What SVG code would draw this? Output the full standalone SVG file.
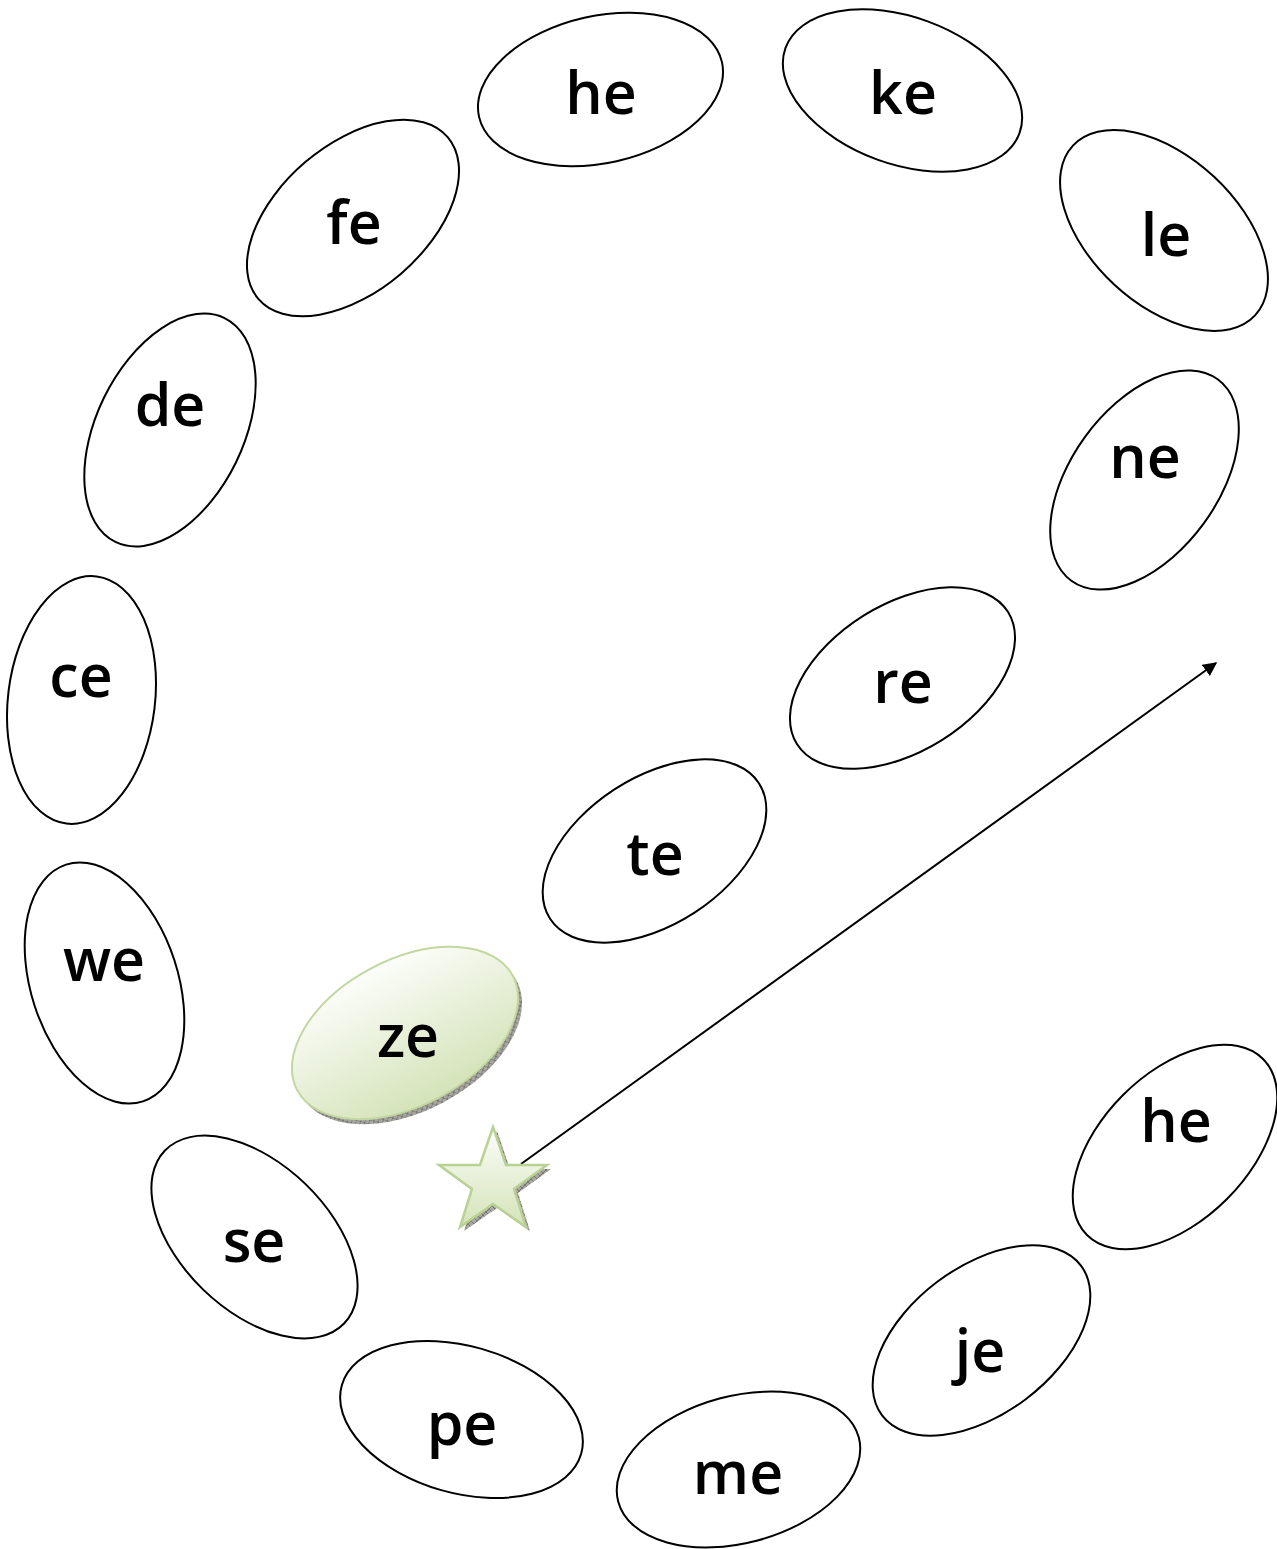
<svg xmlns="http://www.w3.org/2000/svg" width="1277" height="1549" viewBox="0 0 1277 1549">
<style>
.n{fill:#fff;stroke:#000;stroke-width:2}
.t{font-family:"Comic Sans MS","Open Sans",sans-serif;font-size:59px;font-weight:600;fill:#000;text-anchor:middle}
</style>
<defs>
<linearGradient id="g" x1="0" y1="0" x2="0" y2="1">
<stop offset="0" stop-color="#fcfdfa"/><stop offset="1" stop-color="#d4e3b8"/>
</linearGradient>
<pattern id="h" width="6" height="6" patternUnits="userSpaceOnUse">
<rect width="6" height="6" fill="#a8a8a0"/><path d="M0 0L6 6M6 0L0 6" stroke="#777" stroke-width="1"/>
</pattern>
<marker id="a" viewBox="0 0 10 10" refX="9" refY="5" markerWidth="7" markerHeight="7" orient="auto" markerUnits="strokeWidth">
<path d="M0 0L10 5L0 10z" fill="#000"/>
</marker>
</defs>
<g id="connectors">
<line x1="521" y1="1164" x2="1216" y2="663" stroke="#000" stroke-width="2" marker-end="url(#a)"/>
</g>
<g id="n-he1"><ellipse class="n" cx="600.5" cy="89.5" rx="124.5" ry="73.5" transform="rotate(-12.7 600.5 89.5)"/><text class="t" x="601" y="114">he</text></g>
<g id="n-ke"><ellipse class="n" cx="902.5" cy="90.5" rx="124.5" ry="73.5" transform="rotate(20 902.5 90.5)"/><text class="t" x="903" y="114">ke</text></g>
<g id="n-le"><ellipse class="n" cx="1164" cy="230.5" rx="124.5" ry="73.5" transform="rotate(43 1164 230.5)"/><text class="t" x="1166" y="256">le</text></g>
<g id="n-ne"><ellipse class="n" cx="1144.5" cy="480" rx="124.5" ry="73.5" transform="rotate(-54 1144.5 480)"/><text class="t" x="1145" y="478">ne</text></g>
<g id="n-re"><ellipse class="n" cx="902.5" cy="678" rx="124.5" ry="73.5" transform="rotate(-32 902.5 678)"/><text class="t" x="903" y="703">re</text></g>
<g id="n-te"><ellipse class="n" cx="654.5" cy="851" rx="124.5" ry="73.5" transform="rotate(-33 654.5 851)"/><text class="t" x="655" y="875">te</text></g>
<g id="n-ze">
<ellipse cx="409" cy="1038" rx="122" ry="73" transform="rotate(-28 409 1038)" fill="url(#h)"/>
<ellipse cx="405" cy="1033" rx="122" ry="73" transform="rotate(-28 405 1033)" fill="url(#g)" stroke="#c3d7a0" stroke-width="2"/>
<text class="t" x="408" y="1057">ze</text></g>
<g id="n-he2"><ellipse class="n" cx="1175" cy="1147" rx="124.5" ry="73.5" transform="rotate(-45 1175 1147)"/><text class="t" x="1176" y="1142">he</text></g>
<g id="n-je"><ellipse class="n" cx="981.5" cy="1340.5" rx="124.5" ry="73.5" transform="rotate(-37 981.5 1340.5)"/><text class="t" x="980" y="1372">je</text></g>
<g id="n-me"><ellipse class="n" cx="738.5" cy="1469.5" rx="124.5" ry="73.5" transform="rotate(-15 738.5 1469.5)"/><text class="t" x="738" y="1494">me</text></g>
<g id="n-pe"><ellipse class="n" cx="461.5" cy="1419.5" rx="124.5" ry="73.5" transform="rotate(16 461.5 1419.5)"/><text class="t" x="462" y="1445">pe</text></g>
<g id="n-se"><ellipse class="n" cx="254.5" cy="1237" rx="124.5" ry="73.5" transform="rotate(44 254.5 1237)"/><text class="t" x="254" y="1262">se</text></g>
<g id="n-we"><ellipse class="n" cx="104.5" cy="983" rx="124.5" ry="73.5" transform="rotate(72 104.5 983)"/><text class="t" x="104" y="981">we</text></g>
<g id="n-ce"><ellipse class="n" cx="81.5" cy="700" rx="124.5" ry="73.5" transform="rotate(-83 81.5 700)"/><text class="t" x="81" y="697">ce</text></g>
<g id="n-de"><ellipse class="n" cx="170" cy="430" rx="124.5" ry="73.5" transform="rotate(-64 170 430)"/><text class="t" x="170" y="426">de</text></g>
<g id="n-fe"><ellipse class="n" cx="353" cy="218" rx="124.5" ry="73.5" transform="rotate(-40.5 353 218)"/><text class="t" x="354" y="244">fe</text></g>
<g id="star">
<polygon points="497,1131 510,1169 551,1169 518,1193 530,1231 497,1208 464,1231 476,1193 443,1169 484,1169" fill="url(#h)"/>
<polygon points="493,1127 506,1165 547,1165 514,1189 526,1227 493,1204 460,1227 472,1189 439,1165 480,1165" fill="url(#g)" stroke="#b9d193" stroke-width="2.5"/>
</g>
</svg>
